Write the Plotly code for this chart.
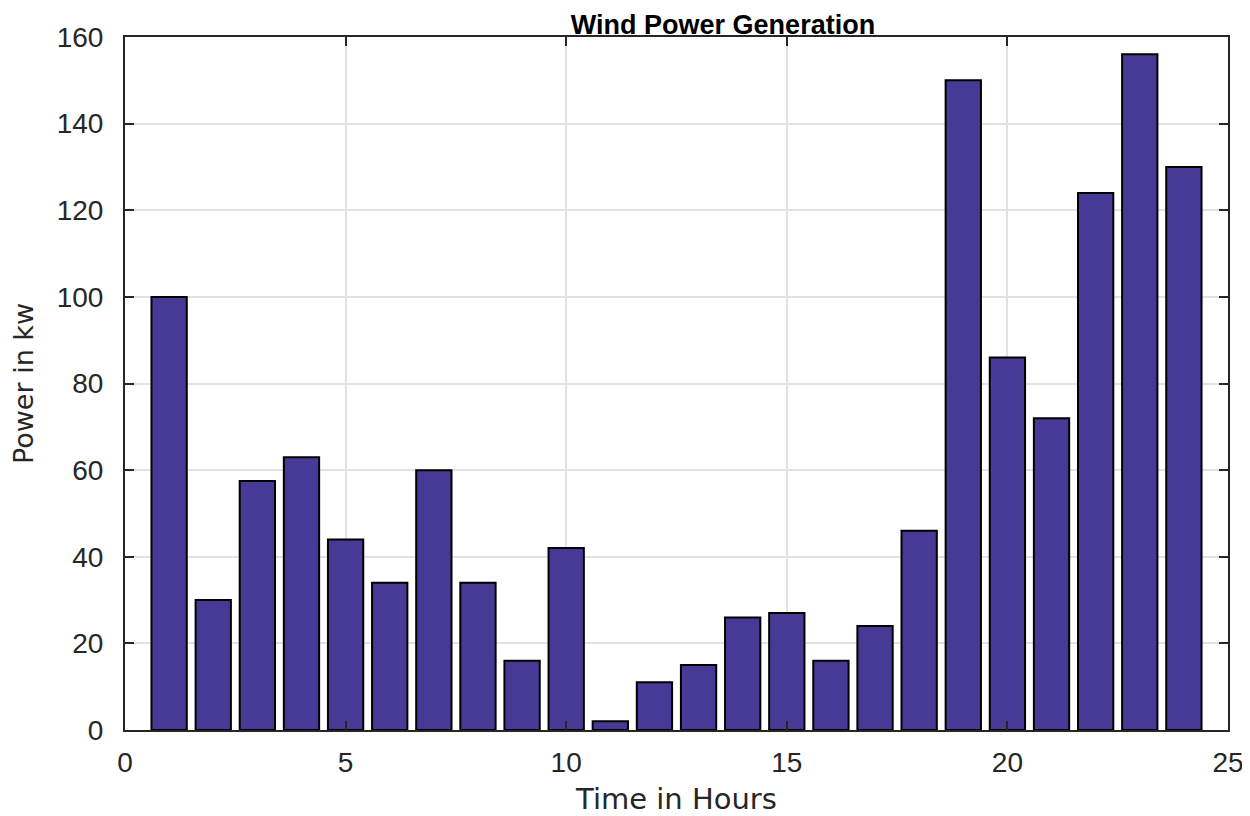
import plotly.graph_objects as go

hours = list(range(1, 25))
power_kw = [100, 30, 57.5, 63, 44, 34, 60, 34, 16, 42, 2, 11, 15, 26, 27, 16, 24, 46, 150, 86, 72, 124, 156, 130]
x_ticks = [0, 5, 10, 15, 20, 25]
y_ticks = [0, 20, 40, 60, 80, 100, 120, 140, 160]

fig = go.Figure()
fig.add_trace(go.Bar(
    x=hours, y=power_kw, width=0.8,
    marker=dict(color="#463a96", line=dict(color="#000000", width=2)),
))

axis_common = dict(
    showgrid=True, gridcolor="#e2e2e2", gridwidth=1.5,
    showline=True, linecolor="#262626", linewidth=2, mirror="ticks",
    ticks="inside", ticklen=9, tickcolor="#262626", tickwidth=2,
    zeroline=False,
    tickfont=dict(family="Liberation Sans, Arial", size=28, color="#262626"),
)

fig.update_layout(
    width=1250, height=816,
    paper_bgcolor="white", plot_bgcolor="white",
    margin=dict(l=117, r=30, t=29, b=94),
    showlegend=False,
    bargap=0.2,
    title=dict(text="<b>Wind Power Generation</b>", x=0.572, xanchor="center",
               y=0.991, yanchor="top", yref="container", pad=dict(t=0),
               font=dict(family="Liberation Sans, Arial", size=27, color="#000000")),
    xaxis=dict(axis_common, range=[0, 25], tickvals=x_ticks, ticklabelstandoff=6,
               title=dict(text="Time in Hours", standoff=12,
                          font=dict(family="DejaVu Sans, Liberation Sans", size=29, color="#262626"))),
    yaxis=dict(axis_common, range=[0, 160], tickvals=y_ticks, ticklabelstandoff=14,
               title=dict(text="Power in kw", standoff=18,
                          font=dict(family="DejaVu Sans, Liberation Sans", size=27, color="#262626"))),
)

fig.write_html("out.html")
